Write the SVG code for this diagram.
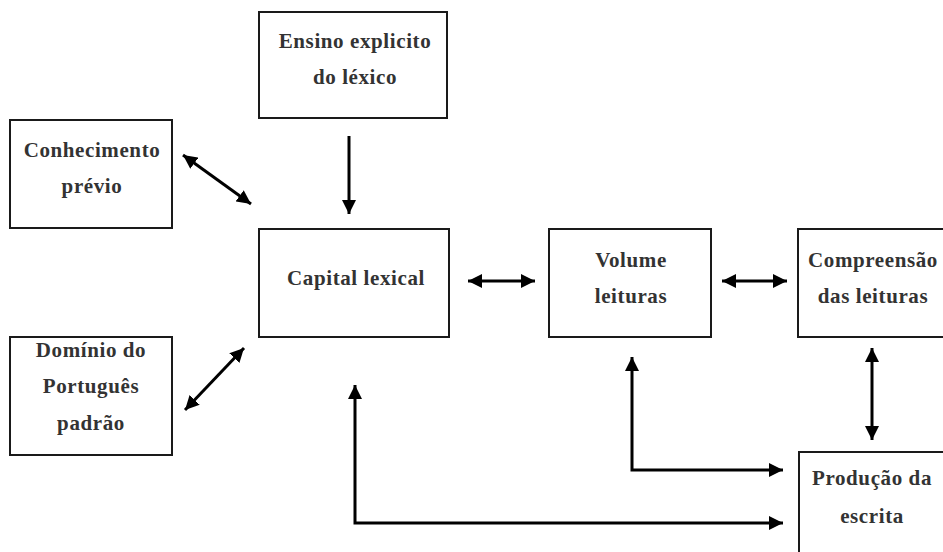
<svg xmlns="http://www.w3.org/2000/svg" width="943" height="552" viewBox="0 0 943 552">
  <style>
    .box { fill: #ffffff; stroke: #1a1a1a; stroke-width: 2; }
    .lbl { font-family: "Liberation Serif", "DejaVu Serif", serif; font-weight: bold; font-size: 21px; letter-spacing: 0.6px; fill: #333333; text-anchor: middle; }
    .link { fill: none; stroke: #000000; stroke-width: 3; }
  </style>
  <defs>
    <marker id="head" viewBox="0 0 14 14" refX="14" refY="7" markerWidth="14" markerHeight="14" markerUnits="userSpaceOnUse" orient="auto-start-reverse">
      <path d="M0,0 L14,7 L0,14 Z" fill="#000000"/>
    </marker>
  </defs>

  <rect width="943" height="552" fill="#ffffff"/>

  <g id="ensino">
    <rect class="box" x="259" y="12" width="188" height="106"/>
    <text class="lbl" x="355" y="48">Ensino explicito</text>
    <text class="lbl" x="355" y="84">do léxico</text>
  </g>

  <g id="conhecimento">
    <rect class="box" x="10" y="120" width="162" height="108"/>
    <text class="lbl" x="92" y="157">Conhecimento</text>
    <text class="lbl" x="92" y="193">prévio</text>
  </g>

  <g id="dominio">
    <rect class="box" x="10" y="337" width="162" height="118"/>
    <text class="lbl" x="91" y="357">Domínio do</text>
    <text class="lbl" x="91" y="393">Português</text>
    <text class="lbl" x="91" y="430">padrão</text>
  </g>

  <g id="capital">
    <rect class="box" x="259" y="229" width="190" height="108"/>
    <text class="lbl" x="356" y="285">Capital lexical</text>
  </g>

  <g id="volume">
    <rect class="box" x="549" y="229" width="162" height="108"/>
    <text class="lbl" x="631" y="267">Volume</text>
    <text class="lbl" x="631" y="303">leituras</text>
  </g>

  <g id="compreensao">
    <rect class="box" x="798" y="229" width="160" height="108"/>
    <text class="lbl" x="873" y="267">Compreensão</text>
    <text class="lbl" x="873" y="303">das leituras</text>
  </g>

  <g id="producao">
    <rect class="box" x="799" y="452" width="160" height="120"/>
    <text class="lbl" x="872" y="485">Produção da</text>
    <text class="lbl" x="872" y="523">escrita</text>
  </g>

  <g id="connectors">
    <path class="link" d="M349,136 L349,214" marker-end="url(#head)"/>
    <path class="link" d="M183,155 L251,204" marker-start="url(#head)" marker-end="url(#head)"/>
    <path class="link" d="M185,410 L244,348" marker-start="url(#head)" marker-end="url(#head)"/>
    <path class="link" d="M468,281 L535,281" marker-start="url(#head)" marker-end="url(#head)"/>
    <path class="link" d="M722,281 L787,281" marker-start="url(#head)" marker-end="url(#head)"/>
    <path class="link" d="M872,348 L872,440" marker-start="url(#head)" marker-end="url(#head)"/>
    <path class="link" d="M632,357 L632,470 L783,470" marker-start="url(#head)" marker-end="url(#head)"/>
    <path class="link" d="M355,385 L355,523 L783,523" marker-start="url(#head)" marker-end="url(#head)"/>
  </g>
</svg>
